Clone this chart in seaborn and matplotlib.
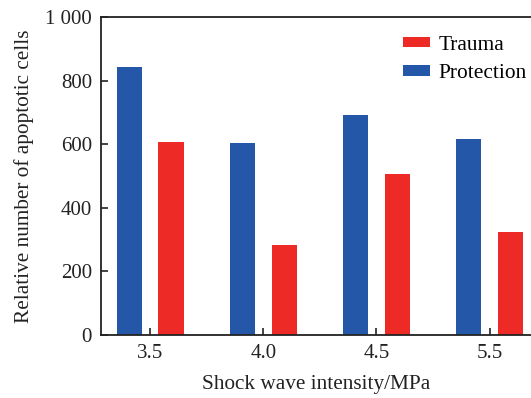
import matplotlib
matplotlib.use("Agg")
import matplotlib.pyplot as plt
import seaborn as sns
import pandas as pd

# Shock wave intensity groups and apoptotic cell counts
intensities = ["3.5", "4.0", "4.5", "5.5"]
protection = [844, 604, 692, 616]
trauma = [607, 283, 505, 323]
y_ticks = [0, 200, 400, 600, 800, 1000]
y_tick_labels = ["0", "200", "400", "600", "800", "1 000"]

plt.rcParams["font.family"] = ["Liberation Serif", "DejaVu Serif"]
plt.rcParams["axes.linewidth"] = 1.3

df = pd.DataFrame({
    "intensity": intensities * 2,
    "count": protection + trauma,
    "group": ["Protection"] * len(intensities) + ["Trauma"] * len(intensities),
})

palette = {"Protection": "#2457a7", "Trauma": "#ee2a27"}

fig = plt.figure(figsize=(5.31, 3.98), dpi=100)
ax = fig.add_axes([101 / 531, (398 - 334.7) / 398, 1 - 101 / 531, (334.7 - 17.2) / 398])

sns.barplot(data=df, x="intensity", y="count", hue="group",
            hue_order=["Protection", "Trauma"], order=intensities,
            palette=palette, width=0.74, gap=0.4, saturation=1,
            edgecolor="none", linewidth=0, ax=ax)

ax.set_xlim(-0.433, 3.365)
ax.set_ylim(0, 1000)
ax.set_yticks(y_ticks)
ax.set_yticklabels(y_tick_labels)
ax.spines["right"].set_visible(False)
for s in ["left", "bottom", "top"]:
    ax.spines[s].set_color("#222222")
ax.tick_params(axis="both", direction="in", length=5, width=1.2,
               labelsize=15, colors="#222222", labelcolor="#222222")
ax.tick_params(axis="x", pad=7)
ax.tick_params(axis="y", pad=6.5)

ax.set_xlabel("Shock wave intensity/MPa", fontsize=15.3, color="#222222", labelpad=8)
ax.set_ylabel("Relative number of apoptotic cells", fontsize=15.3, color="#222222", labelpad=8)

handles, labels = ax.get_legend_handles_labels()
order = [labels.index("Trauma"), labels.index("Protection")]
ax.legend([handles[i] for i in order], [labels[i] for i in order],
          loc="upper right", bbox_to_anchor=(1.015, 0.976), frameon=False,
          fontsize=15.4, handlelength=1.25, handleheight=0.38,
          handletextpad=0.4, labelspacing=0.45, borderaxespad=0.1)

fig.savefig("out.png", dpi=100)
